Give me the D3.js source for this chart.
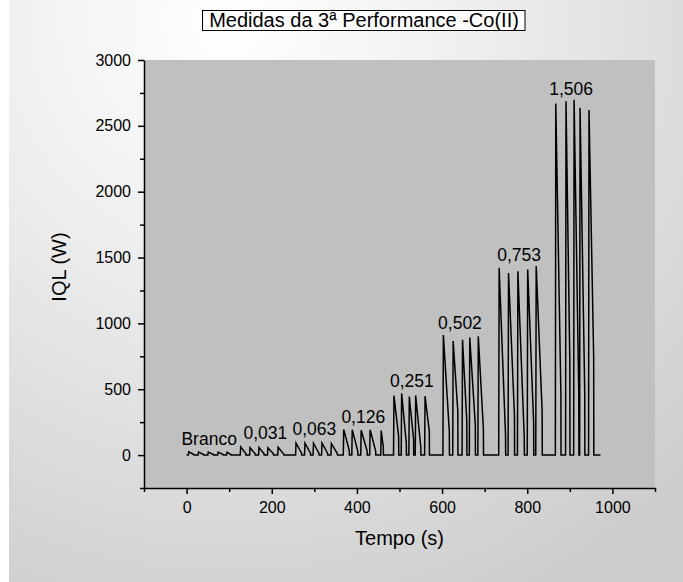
<!DOCTYPE html>
<html lang="pt">
<head>
<meta charset="utf-8">
<title>Medidas da 3ª Performance -Co(II)</title>
<script src="https://d3js.org/d3.v7.min.js"></script>
<style>
  body { margin: 0; background: #fff; }
  svg text { font-family: Arial, "Liberation Sans", sans-serif; fill: #000; }
</style>
</head>
<body>
<svg id="chart" width="683" height="582"></svg>
<script>
// concentration labels written above each group of injections
var groupLabels = ["Branco", "0,031", "0,063", "0,126", "0,251", "0,502", "0,753", "1,506"];
var labelTime  = [53, 185, 300, 415, 529, 642, 781, 903];
var labelLevel = [80, 120, 152, 246, 515, 955, 1470, 2734];

// one entry per peak: time of rise (s), peak height, end of decay (s), value at end of decay
var riseTime = [4, 27, 50, 73, 94,
                126, 148, 169, 190, 214,
                256, 277, 297, 317, 339,
                368, 388, 409, 430, 456,
                486, 504, 522, 537, 559,
                602, 625, 647, 664, 684,
                733, 755, 777, 800, 820,
                866, 890, 909, 923, 944];
var peakValue = [25, 22, 22, 22, 22,
                 62, 56, 58, 55, 60,
                 92, 90, 90, 92, 88,
                 195, 192, 188, 192, 185,
                 452, 468, 445, 452, 447,
                 912, 866, 876, 892, 902,
                 1422, 1382, 1395, 1410, 1436,
                 2670, 2686, 2698, 2638, 2620];
var fallTime = [17, 40, 63, 86, 104,
                139, 161, 182, 204, 228,
                270, 291, 311, 331, 354,
                382, 402, 424, 444, 462,
                498, 516, 533, 550, 570,
                617, 637, 658, 678, 697,
                749, 770, 793, 815, 835,
                879, 900, 921, 935, 956];
var fallValue = [4, 4, 4, 4, 4,
                 12, 10, 10, 10, 8,
                 15, 15, 12, 15, 12,
                 35, 30, 30, 30, 60,
                 140, 90, 120, 60, 180,
                 180, 330, 260, 230, 200,
                 150, 300, 130, 250, 330,
                 460, 700, 470, 470, 740];
var startTime = 0, endTime = 972;

var xTicks = [0, 200, 400, 600, 800, 1000];
var xMinor = [-100, 100, 300, 500, 700, 900, 1100];
var yTicks = [0, 500, 1000, 1500, 2000, 2500, 3000];
var yMinor = [-250, 250, 750, 1250, 1750, 2250, 2750];

var svg = d3.select("#chart"),
    W = +svg.attr("width"), H = +svg.attr("height");
var m = {left: 144, right: 655, top: 60, bottom: 488};

// background
var defs = svg.append("defs");
var grad = defs.append("radialGradient")
    .attr("id", "bg").attr("gradientUnits", "userSpaceOnUse")
    .attr("cx", 230).attr("cy", 20).attr("r", 640);
grad.append("stop").attr("offset", 0).attr("stop-color", "#ffffff");
grad.append("stop").attr("offset", 0.35).attr("stop-color", "#f0f0f0");
grad.append("stop").attr("offset", 1).attr("stop-color", "#cdcdcd");
svg.append("rect").attr("width", W).attr("height", H).attr("fill", "#fff");
svg.append("rect").attr("x", 9).attr("width", W - 9).attr("height", H).attr("fill", "url(#bg)");

var x = d3.scaleLinear().domain([-100, 1100]).range([m.left, m.right]);
var y = d3.scaleLinear().domain([-250, 3000]).range([m.bottom, m.top]);

svg.append("rect")
    .attr("x", m.left).attr("y", m.top)
    .attr("width", m.right - m.left).attr("height", m.bottom - m.top)
    .attr("fill", "#c0c0c0");

// build the trace from the peak table
var pts = [[startTime, 0]];
riseTime.forEach(function (t, i) {
  pts.push([t, 0]);
  pts.push([t + 1, peakValue[i]]);
  pts.push([fallTime[i], fallValue[i]]);
  pts.push([fallTime[i] + 0.3, 0]);
});
pts.push([endTime, 0]);

var line = d3.line().x(function (d) { return x(d[0]); }).y(function (d) { return y(d[1]); });
svg.append("path").datum(pts)
    .attr("d", line)
    .attr("fill", "none")
    .attr("stroke", "#000")
    .attr("stroke-width", 1.5)
    .attr("stroke-linejoin", "miter");

// axes
var fmt = d3.format("d");
var gx = svg.append("g").attr("transform", "translate(0," + m.bottom + ")");
gx.call(d3.axisBottom(x).tickValues(xMinor).tickSize(4).tickFormat(""));
gx.select(".domain").remove();
var gx2 = svg.append("g").attr("transform", "translate(0," + m.bottom + ")");
gx2.call(d3.axisBottom(x).tickValues(xTicks).tickSize(6).tickSizeOuter(0).tickPadding(8).tickFormat(fmt));

var gy = svg.append("g").attr("transform", "translate(" + m.left + ",0)");
gy.call(d3.axisLeft(y).tickValues(yMinor).tickSize(4).tickFormat(""));
gy.select(".domain").remove();
var gy2 = svg.append("g").attr("transform", "translate(" + m.left + ",0)");
gy2.call(d3.axisLeft(y).tickValues(yTicks).tickSize(6).tickSizeOuter(0).tickPadding(7).tickFormat(fmt));

svg.selectAll(".domain, .tick line").attr("stroke", "#000").attr("stroke-width", 1.5);
svg.selectAll(".tick text").attr("font-size", 16).attr("font-family", "Arial, 'Liberation Sans', sans-serif");

// group labels
svg.append("g").selectAll("text")
    .data(groupLabels)
    .join("text")
    .attr("x", function (d, i) { return x(labelTime[i]); })
    .attr("y", function (d, i) { return y(labelLevel[i]); })
    .attr("text-anchor", "middle")
    .attr("font-size", 17.5)
    .text(function (d) { return d; });

// axis titles
svg.append("text")
    .attr("x", (m.left + m.right) / 2).attr("y", 545)
    .attr("text-anchor", "middle").attr("font-size", 20)
    .text("Tempo (s)");
svg.append("text")
    .attr("transform", "translate(66,267) rotate(-90)")
    .attr("text-anchor", "middle").attr("font-size", 20)
    .text("IQL (W)");

// boxed title
svg.append("rect")
    .attr("x", 202.5).attr("y", 10.5).attr("width", 322.5).attr("height", 20)
    .attr("fill", "#fff").attr("stroke", "#000").attr("stroke-width", 1);
svg.append("text")
    .attr("x", 364).attr("y", 26.5)
    .attr("text-anchor", "middle").attr("font-size", 20)
    .text("Medidas da 3ª Performance -Co(II)");
</script>
</body>
</html>
